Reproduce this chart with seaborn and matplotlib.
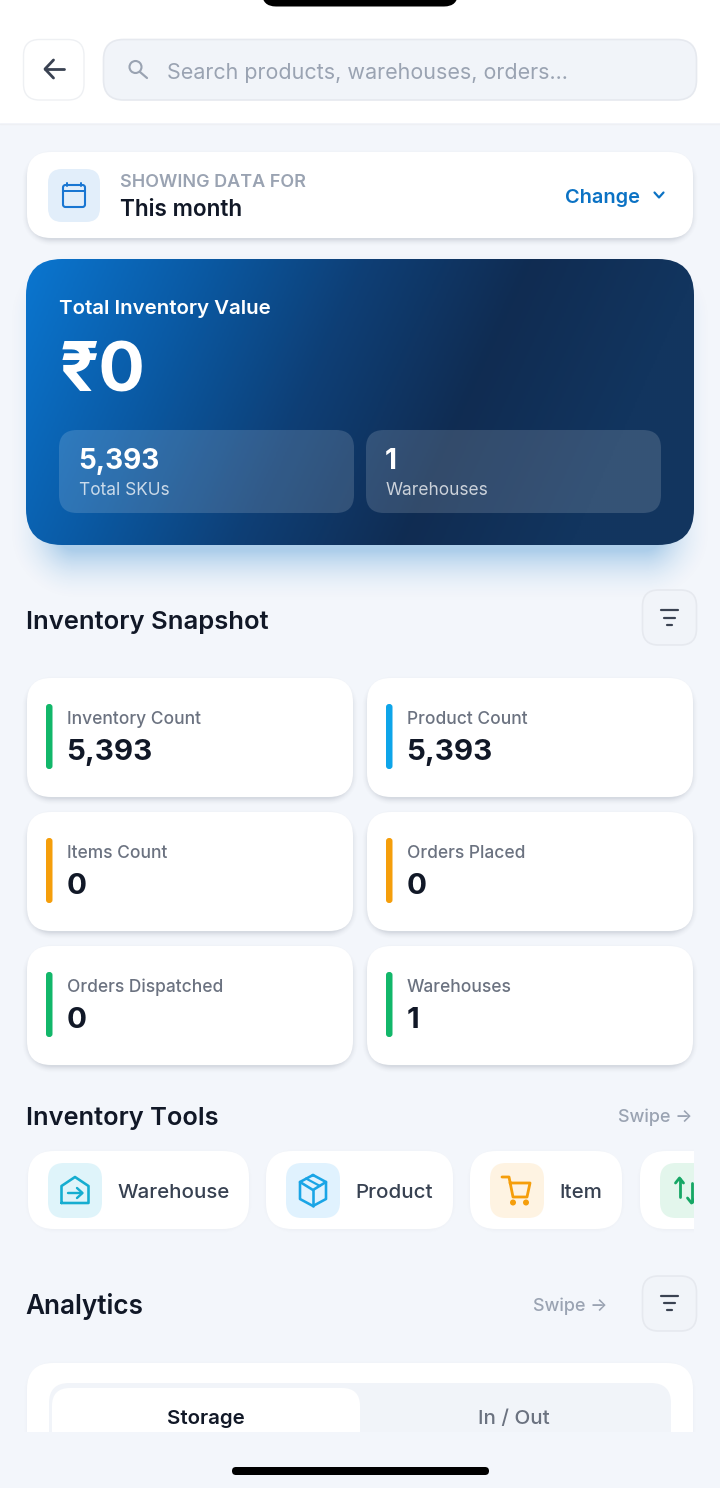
import numpy as np
import matplotlib
matplotlib.use("Agg")
import matplotlib.pyplot as plt
from matplotlib.patches import FancyBboxPatch, Rectangle, Circle
from matplotlib.colors import LinearSegmentedColormap, to_rgb
import seaborn as sns

sns.set_theme(style="white")
plt.rcParams['font.family'] = ['Inter', 'Noto Sans', 'DejaVu Sans']

# ---- content ----
search_placeholder = "Search products, warehouses, orders..."
period_caption = "SHOWING DATA FOR"
period_value = "This month"
period_action = "Change"
hero_title = "Total Inventory Value"
hero_value = "₹0"
hero_stat_values = ["5,393", "1"]
hero_stat_labels = ["Total SKUs", "Warehouses"]
snapshot_title = "Inventory Snapshot"
metric_labels = ["Inventory Count", "Product Count", "Items Count", "Orders Placed", "Orders Dispatched", "Warehouses"]
metric_values = ["5,393", "5,393", "0", "0", "0", "1"]
metric_colors = ["#12b76a", "#0ea5e9", "#f59e0b", "#f59e0b", "#12b76a", "#12b76a"]
tools_title = "Inventory Tools"
tool_labels = ["Warehouse", "Product", "Item"]
tool_tints = ["#dff4fa", "#e0f2fe", "#fef3e2", "#e3f6ec"]
analytics_title = "Analytics"
tab_labels = ["Storage", "In / Out"]
swipe_label = "Swipe →"

BG = "#f3f6fb"
INK = "#111827"
GREY = "#9aa3b2"
MID = "#6b7280"

W, H = 720, 1488
fig = plt.figure(figsize=(W / 100, H / 100), dpi=100, facecolor=BG)
ax = fig.add_axes([0, 0, 1, 1])
ax.set_facecolor(BG)
sns.despine(ax=ax, left=True, bottom=True)
ax.set_xticks([]); ax.set_yticks([])


def fs(px):
    return px * 0.72


def rrect(x0, y0, x1, y1, r, fc="white", ec="none", lw=0, alpha=None, z=2):
    p = FancyBboxPatch((x0, y0), x1 - x0, y1 - y0, boxstyle=f"round,pad=0,rounding_size={r}",
                       fc=fc, ec=ec, lw=lw, alpha=alpha, zorder=z)
    ax.add_patch(p)
    return p


def shadow(x0, y0, x1, y1, r, color="#1f2a44", dy=3, blur=6, a=0.14, z=1.5):
    # soft shadow: alpha falls off with the distance from a rounded box
    y0, y1 = y0 + dy, y1 + dy
    px0, px1, py0, py1 = x0 - blur - 2, x1 + blur + 2, y0 - blur - 2, y1 + blur + 2
    ny, nx = int(py1 - py0), int(px1 - px0)
    yy, xx = np.mgrid[py0 + .5:py1 + .5:1, px0 + .5:px1 + .5:1]
    cx, cy, hx, hy = (x0 + x1) / 2, (y0 + y1) / 2, (x1 - x0) / 2 - r, (y1 - y0) / 2 - r
    qx, qy = np.abs(xx - cx) - hx, np.abs(yy - cy) - hy
    d = np.hypot(np.maximum(qx, 0), np.maximum(qy, 0)) + np.minimum(np.maximum(qx, qy), 0) - r
    f = np.clip(1 - (d + blur * 0.3) / (blur * 1.3), 0, 1)
    img = np.zeros(xx.shape + (4,))
    img[..., :3] = to_rgb(color)
    img[..., 3] = a * f ** 2
    ax.imshow(img, extent=(px0, px0 + nx, py0 + ny, py0), aspect="auto", zorder=z, interpolation="bilinear")


def txt(x, y, s, px, color=INK, weight=400, ha="left", z=5, alpha=None):
    return ax.text(x, y, s, fontsize=fs(px), color=color, fontweight=weight, ha=ha, va="baseline", zorder=z, alpha=alpha)


def line(xs, ys, color, lw=2.0, z=5):
    ax.plot(xs, ys, color=color, lw=lw * 0.72, solid_capstyle="round", solid_joinstyle="round", zorder=z, scalex=False, scaley=False)


ax.set_xlim(0, W); ax.set_ylim(H, 0)

# header
ax.add_patch(Rectangle((0, 0), W, 123, fc="white", ec="none", zorder=1))
ax.plot([0, W], [123.5, 123.5], color="#eef0f4", lw=1.0, zorder=1.2, scalex=False, scaley=False)
rrect(262, -20, 458, 6.5, 14, fc="black", z=3)
rrect(23.5, 39.5, 84, 100, 16, fc="white", ec="#eef0f3", lw=1)
line([45, 64], [69, 69], "#3a4252", 2.8)
line([53.5, 45, 53.5], [60, 69, 78], "#3a4252", 2.8)
rrect(103.5, 39.5, 696.5, 100, 20, fc="#f1f4f9", ec="#e6e9ef", lw=1.2)
ax.add_patch(Circle((135.5, 67), 6, fc="none", ec=GREY, lw=1.5, zorder=5))
line([140, 147], [72, 78], GREY, 2.2)
txt(167, 79, search_placeholder, 21.5, color=GREY)

# period card
shadow(27, 152, 693, 238, 24)
rrect(27, 152, 693, 238, 24)
rrect(48, 169, 100, 222, 14, fc="#e2eefa", z=3)
rrect(63, 185, 85, 207, 2.5, fc="none", ec="#1976d2", lw=1.5, z=5)
line([63, 85], [191, 191], "#1976d2", 2)
line([67, 67], [183, 186], "#1976d2", 2)
line([80.5, 80.5], [183, 186], "#1976d2", 2)
txt(120, 187, period_caption, 18, color=GREY, weight=600)
txt(120, 216.5, period_value, 22.6, color=INK, weight=600)
txt(565, 203, period_action, 20, color="#0b72c4", weight=600)
line([654.5, 659, 663.5], [192.5, 197.5, 192.5], "#0b72c4", 2.2)

# hero card
shadow(46, 270, 674, 545, 30, color="#0b72c4", dy=18, blur=40, a=0.30)
hero = rrect(26, 259, 694, 545, 36, fc="none")
yy, xx = np.mgrid[259:545:143j, 26:694:334j]
t = ((xx - 26) * 0.91 + (yy - 259) * 0.415)
t = t / (484 * 0.91)
cmap = LinearSegmentedColormap.from_list("hero", ["#0a76d0", "#0a5ba6", "#0e3f76", "#102c52", "#12355f"])
im = ax.imshow(np.clip(t / 1.4, 0, 1), extent=(26, 694, 545, 259), cmap=cmap, vmin=0, vmax=1, aspect="auto", zorder=2, interpolation="bilinear")
im.set_clip_path(hero)
txt(59, 314, hero_title, 20.5, color="white", weight=600)
txt(60, 391, hero_value, 69, color="white", weight=700)
for x0, x1, v, l in zip([59, 366], [354, 661], hero_stat_values, hero_stat_labels):
    rrect(x0, 430, x1, 513, 18, fc="white", alpha=0.15, z=3)
    txt(x0 + 19, 469, v, 28, color="white", weight=700)
    txt(x0 + 20, 495, l, 17.3, color="white", alpha=0.75)


# filter button helper
def filter_button(y0, ys):
    rrect(642.5, y0, 696.5, y0 + 55, 16, fc="#f1f4f9", ec="#e6e9ef", lw=1.2)
    for (a, b), y in zip([(660.5, 678), (663.5, 675), (667, 672)], ys):
        line([a, b], [y, y], "#3a4252", 2.2)


# snapshot
txt(26, 628.5, snapshot_title, 25.6, color=INK, weight=600)
filter_button(590, [610, 617.5, 625])
col_x = [(27, 353), (367, 693)]
row_y = [678, 812, 946]
for i, (lab, val, col) in enumerate(zip(metric_labels, metric_values, metric_colors)):
    x0, x1 = col_x[i % 2]
    y0 = row_y[i // 2]
    shadow(x0, y0, x1, y0 + 119, 24)
    rrect(x0, y0, x1, y0 + 119, 24)
    rrect(x0 + 19, y0 + 26, x0 + 25.5, y0 + 91, 3, fc=col, z=4)
    txt(x0 + 40, y0 + 46, lab, 17.4, color=MID, weight=500)
    txt(x0 + 39.5, y0 + 82, val, 29.5, color=INK, weight=700)

# tools
txt(26, 1125, tools_title, 25.4, color=INK, weight=600)
txt(692, 1122, swipe_label, 18, color=GREY, weight=500, ha="right")
tool_x = [(28, 249), (266, 453), (470, 622), (640, 730)]
label_x = [117.5, 355.5, 559.5]
for i, (x0, x1) in enumerate(tool_x):
    shadow(x0, 1151, x1, 1229, 26, dy=1, blur=5, a=0.035)
    rrect(x0, 1151, x1, 1229, 26)
    rrect(x0 + 20, 1163, x0 + 74, 1218, 16, fc=tool_tints[i], z=3)
for lx, l in zip(label_x, tool_labels):
    txt(lx, 1198, l, 20.5, color="#374151", weight=500)

# warehouse icon
c = "#16add0"
line([61.5, 61.5, 75, 88.5, 88.5, 61.5], [1203, 1186, 1177, 1186, 1203, 1203], c, 2.6)
line([68, 82], [1193, 1193], c, 2.4)
line([77, 82.5, 77], [1188, 1193, 1198], c, 2.4)
# product icon
c = "#1aa5e6"
line([313, 326, 326, 313, 300, 300, 313], [1175, 1182, 1199, 1206, 1199, 1182, 1175], c, 2.6)
line([300, 313, 326], [1182, 1190, 1182], c, 2.6)
line([313, 313], [1190, 1206], c, 2.6)
line([306, 320], [1178.5, 1186], c, 2.2)
# cart icon
c = "#f59e0b"
line([502, 509, 513, 527, 530, 510], [1177, 1177, 1197, 1197, 1183, 1183], c, 2.8)
ax.add_patch(Circle((513, 1202.5), 3, fc=c, ec="none", zorder=5))
ax.add_patch(Circle((526, 1202.5), 3, fc=c, ec="none", zorder=5))
# transfer icon
c = "#16a765"
line([679.5, 679.5], [1179, 1197], c, 2.8)
line([675.5, 679.5, 683.5], [1183, 1178, 1183], c, 2.8)
line([691.5, 691.5], [1183, 1202], c, 2.8)
line([687.5, 691.5, 695.5], [1198, 1203, 1198], c, 2.8)
ax.add_patch(Rectangle((694, 1140), 26, 100, fc=BG, ec="none", zorder=6))

# analytics
txt(25.5, 1314, analytics_title, 26.2, color=INK, weight=600)
txt(607, 1311, swipe_label, 18, color=GREY, weight=500, ha="right")
filter_button(1276, [1296, 1303, 1310])
shadow(27, 1363, 693, 1480, 26, dy=1, blur=5, a=0.035)
rrect(27, 1363, 693, 1480, 26)
rrect(49, 1383, 671, 1480, 20, fc="#f1f4f9", z=3)
rrect(52, 1388, 360, 1480, 18, fc="white", z=4)
txt(206, 1424, tab_labels[0], 20.5, color=INK, weight=600, ha="center")
txt(514, 1424, tab_labels[1], 20.5, color=MID, weight=500, ha="center")

# bottom bar
ax.add_patch(Rectangle((0, 1432), W, 56, fc=BG, ec="none", zorder=7))
rrect(232, 1467, 489, 1475, 4, fc="black", z=8)

ax.set_xlim(0, W); ax.set_ylim(H, 0)
fig.savefig("out.png", dpi=100, facecolor=BG)
